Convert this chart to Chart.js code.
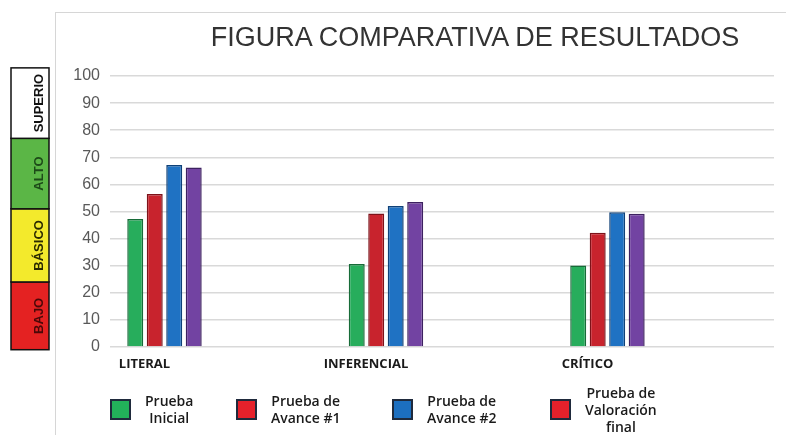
<!DOCTYPE html>
<html>
<head>
<meta charset="utf-8">
<script src="https://cdn.jsdelivr.net/npm/chart.js@4/dist/chart.umd.min.js"></script>
<style>
  html, body { margin: 0; padding: 0; background: #fff; }
  #wrap { position: relative; width: 786px; height: 435px; overflow: hidden; }
  #frame { position: absolute; left: 55px; top: 12px; right: 0; bottom: 0;
           border-left: 1.5px solid #d6d6d6; border-top: 1.5px solid #d6d6d6; }
  #chart { position: absolute; left: 0; top: 0; }
  #title { position: absolute; left: 475px; top: 24px; transform: translateX(-50%);
           white-space: nowrap; font: 27px/27px "Liberation Sans", Arial, sans-serif; color: #333; }
  .item { position: absolute; top: 384px; height: 50px; display: flex; align-items: center; }
  .swatch { width: 17px; height: 17px; border: 2px solid #1f2a3c; flex: none; }
  .txt { margin-left: 14px; text-align: center; font: 600 14px/17px "Open Sans", sans-serif; color: #1a1a1a; }
</style>
</head>
<body>
<div id="wrap">
  <div id="frame"></div>
  <canvas id="chart" width="786" height="435"></canvas>
  <div id="title">FIGURA COMPARATIVA DE RESULTADOS</div>
  <div id="legend"></div>
</div>
<script>
const categories = ['LITERAL', 'INFERENCIAL', 'CRÍTICO'];
const seriesNames = ['Prueba Inicial', 'Prueba de Avance #1', 'Prueba de Avance #2', 'Prueba de Valoración final'];
const legendLines = [['Prueba', 'Inicial'], ['Prueba de', 'Avance #1'], ['Prueba de', 'Avance #2'], ['Prueba de', 'Valoración', 'final']];

const pruebaInicial = [47.2, 30.6, 30.1];
const avance1 = [56.5, 49.3, 42.2];
const avance2 = [67.2, 52.0, 49.7];
const valoracionFinal = [66.2, 53.5, 49.2];

// performance bands drawn on the left
const levelNames = ['BAJO', 'BÁSICO', 'ALTO', 'SUPERIO'];
const levelLimits = [-1, 24, 51, 77, 103];

// styles
const barColors = ['#27ad5c', '#c8232d', '#1f72c3', '#7243a2'];
const barBorders = ['#176b38', '#7d1219', '#0f4178', '#3d2160'];
const legendSwatches = ['#22b15a', '#e5212b', '#1c6fc0', '#e5212b'];
const legendLeft = [110, 236, 392, 550];
const levelFill = ['#e42222', '#f3ea2c', '#5bb646', '#ffffff'];
const levelText = ['#4a0808', '#2a2a00', '#1d4a18', '#111111'];

const seriesValues = [pruebaInicial, avance1, avance2, valoracionFinal];

const levelBand = {
  id: 'levelBand',
  afterDraw(chart) {
    const y = chart.scales.y;
    const ctx = chart.ctx;
    const x0 = 11, x1 = 49;
    ctx.save();
    levelNames.forEach((name, i) => {
      const top = y.getPixelForValue(levelLimits[i + 1]);
      const bot = y.getPixelForValue(levelLimits[i]);
      ctx.fillStyle = levelFill[i];
      ctx.fillRect(x0, top, x1 - x0, bot - top);
      ctx.lineWidth = 1.5;
      ctx.strokeStyle = '#111';
      ctx.strokeRect(x0, top, x1 - x0, bot - top);
      ctx.save();
      ctx.translate(39, (top + bot) / 2);
      ctx.rotate(-Math.PI / 2);
      ctx.fillStyle = levelText[i];
      ctx.font = 'bold 13px "Liberation Sans Narrow", "Liberation Sans", sans-serif';
      ctx.textAlign = 'center';
      ctx.textBaseline = 'middle';
      ctx.fillText(name, 0, 0);
      ctx.restore();
    });
    ctx.restore();
  }
};

const data = {
  datasets: seriesNames.map((name, s) => ({
    label: name,
    data: categories.map((_, i) => ({ x: i, y: seriesValues[s][i] })),
    backgroundColor: barColors[s],
    borderColor: barBorders[s],
    borderWidth: 1.5,
    barPercentage: 0.82,
    categoryPercentage: 0.352,
  })),
};

const config = {
  type: 'bar',
  data,
  options: {
    responsive: false,
    animation: false,
    layout: { padding: { top: 76, right: 12, left: 0, bottom: 0 } },
    plugins: { legend: { display: false }, title: { display: false }, tooltip: { enabled: false } },
    scales: {
      x: {
        type: 'linear',
        offset: false,
        min: -0.246,
        max: 2.752,
        grid: { display: false },
        border: { display: false },
        afterBuildTicks: scale => { scale.ticks = categories.map((_, i) => ({ value: i })); },
        afterFit: scale => { scale.height = 88; },
        ticks: {
          callback: v => categories[v] ?? '',
          labelOffset: -20,
          padding: 1,
          autoSkip: false,
          maxRotation: 0,
          color: '#1a1a1a',
          font: { family: 'Open Sans', size: 13, weight: 'bold' },
        },
      },
      y: {
        min: 0,
        max: 100,
        grid: { color: '#d9d9d9', lineWidth: 1.5, drawTicks: false },
        border: { display: false },
        afterFit: scale => { scale.width = 110; },
        ticks: {
          stepSize: 10,
          padding: 10,
          color: '#595959',
          font: { family: 'Liberation Sans', size: 16 },
        },
      },
    },
  },
  plugins: [levelBand],
};

new Chart(document.getElementById('chart'), config);

const legend = document.getElementById('legend');
seriesNames.forEach((name, s) => {
  const item = document.createElement('div');
  item.className = 'item';
  item.style.left = legendLeft[s] + 'px';
  item.title = name;
  const sw = document.createElement('div');
  sw.className = 'swatch';
  sw.style.background = legendSwatches[s];
  const txt = document.createElement('div');
  txt.className = 'txt';
  txt.innerHTML = legendLines[s].join('<br>');
  item.appendChild(sw);
  item.appendChild(txt);
  legend.appendChild(item);
});
</script>
</body>
</html>
